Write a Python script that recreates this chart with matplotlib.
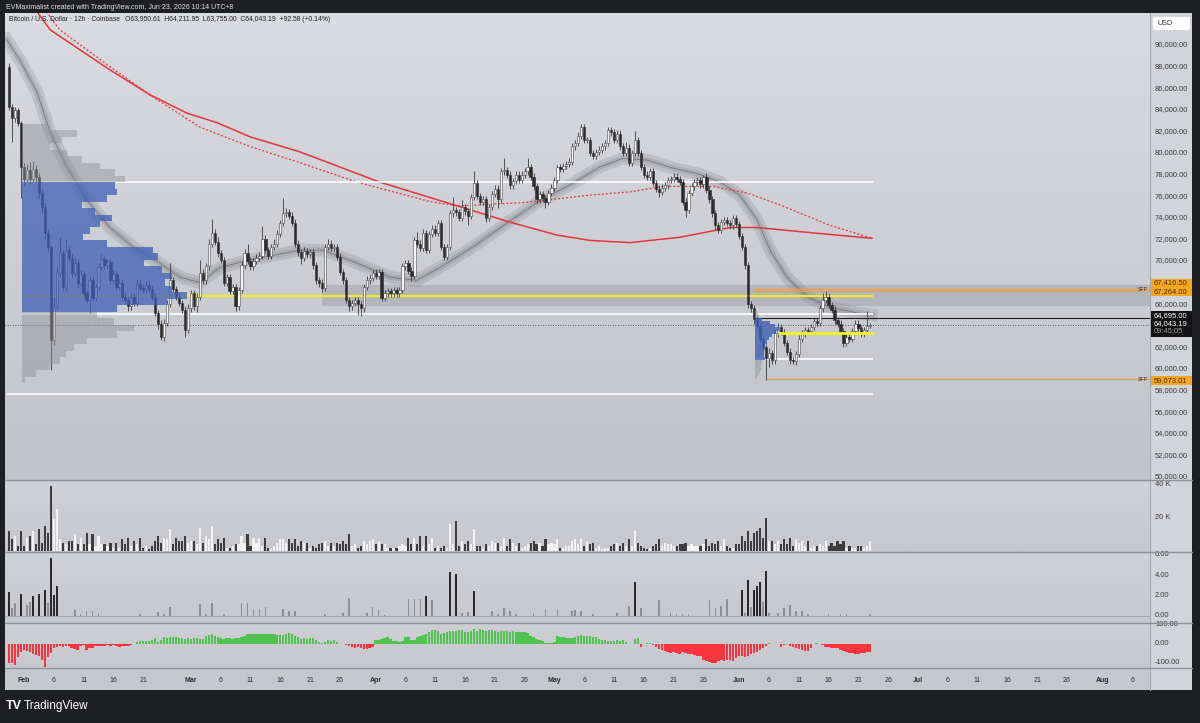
import numpy as np
import pandas as pd
import matplotlib
matplotlib.use("Agg")
import matplotlib.pyplot as plt
import matplotlib.transforms as mtrans
from matplotlib.colors import LinearSegmentedColormap
from matplotlib.patches import Rectangle, FancyBboxPatch

plt.rcParams["font.family"] = ["Liberation Sans", "DejaVu Sans"]

# ---------------- data (prices in thousands of USD, 12h bars) ----------------
t0 = pd.Timestamp("2026-02-01")
bar_times = pd.date_range("2026-01-29 12:00", periods=290, freq="12h")
first_open = 88.0
closes = [
    84.3, 83.2, 84.0, 82.8, 78.7, 77.6, 78.4, 77.6, 78.5, 77.8,
    76.3, 75.0, 72.6, 71.3, 62.7, 65.8, 68.9, 70.7, 67.6, 71.0,
    70.3, 68.9, 69.8, 68.0, 68.8, 67.0, 66.4, 68.2, 66.6, 67.6,
    69.4, 70.2, 69.6, 69.9, 68.2, 68.8, 67.6, 68.0, 66.7, 66.4,
    65.8, 66.7, 66.1, 67.9, 67.5, 67.3, 67.8, 67.4, 66.7, 65.2,
    64.2, 63.0, 64.3, 66.0, 68.2, 67.4, 66.7, 66.1, 65.5, 63.6,
    65.6, 67.0, 65.8, 66.7, 68.9, 68.2, 69.5, 71.6, 72.6, 71.8,
    70.7, 70.1, 68.0, 68.5, 67.2, 67.6, 65.8, 67.3, 69.6, 70.7,
    70.0, 69.5, 70.0, 70.3, 70.5, 72.0, 71.0, 70.5, 71.3, 71.6,
    72.5, 73.5, 74.4, 74.5, 74.2, 73.5, 71.6, 70.8, 70.3, 70.9,
    70.6, 70.8, 69.6, 68.2, 68.0, 67.5, 71.3, 71.6, 71.2, 71.3,
    70.4, 69.0, 68.2, 66.4, 65.8, 66.1, 66.4, 66.0, 65.6, 67.6,
    68.2, 68.4, 68.9, 68.6, 69.0, 66.6, 67.0, 67.2, 67.0, 67.3,
    67.0, 67.3, 69.5, 69.8, 69.1, 68.6, 71.9, 71.6, 71.2, 72.6,
    71.0, 72.5, 73.0, 72.6, 73.5, 71.3, 70.4, 71.3, 74.4, 74.7,
    74.5, 74.0, 75.0, 74.6, 74.2, 75.9, 77.2, 76.0, 75.5, 75.7,
    74.0, 75.0, 76.2, 76.7, 75.7, 78.3, 78.4, 78.0, 77.0, 77.4,
    78.0, 77.5, 78.0, 78.3, 78.7, 77.8, 76.9, 75.7, 76.2, 75.8,
    75.5, 76.3, 76.8, 77.5, 78.7, 78.5, 78.8, 79.0, 79.2, 80.6,
    80.9, 81.6, 82.4, 81.2, 81.2, 80.0, 79.7, 80.1, 80.3, 80.6,
    80.9, 82.1, 81.9, 81.2, 81.8, 80.6, 80.0, 80.5, 79.1, 80.0,
    81.2, 80.0, 78.7, 78.0, 77.8, 78.3, 77.2, 76.7, 76.4, 76.8,
    77.0, 77.5, 77.6, 77.8, 77.6, 77.3, 75.5, 74.7, 76.3, 76.9,
    77.3, 77.5, 77.1, 77.8, 76.6, 75.7, 74.4, 73.3, 72.9, 73.6,
    73.8, 73.5, 73.3, 74.0, 73.4, 72.3, 71.3, 69.6, 66.0, 65.6,
    64.6, 64.0, 62.8, 62.0, 61.0, 61.5, 60.8, 63.3, 63.9, 63.4,
    62.4, 61.6, 60.8, 60.7, 61.4, 62.8, 63.3, 63.6, 63.5, 63.9,
    64.4, 64.3, 65.6, 66.4, 66.7, 65.9, 65.5, 64.5, 64.2, 63.5,
    62.4, 63.0, 62.8, 63.5, 64.2, 63.8, 63.3, 63.6, 63.95, 64.04,
]
# wick length above / below the body, in hundreds of USD
wick_up = [
    3, 2, 3, 2, 2, 4, 6, 8, 8, 4,   3, 3, 4, 3, 2, 9, 5, 15, 3, 10,
    4, 3, 5, 3, 4, 3, 3, 3, 4, 3,   4, 4, 3, 3, 3, 4, 3, 4, 3, 3,
    3, 3, 3, 4, 3, 3, 3, 3, 3, 3,   3, 3, 3, 4, 16, 3, 3, 3, 3, 3,
    4, 3, 3, 3, 12, 4, 3, 4, 13, 4, 4, 3, 3, 3, 3, 3, 3, 3, 4, 4,
    9, 4, 3, 3, 3, 12, 4, 3, 3, 4,  4, 3, 14, 4, 3, 3, 4, 3, 3, 4,
    3, 3, 3, 3, 3, 3, 3, 4, 3, 3,   3, 3, 3, 3, 3, 3, 3, 3, 3, 3,
    4, 3, 3, 4, 3, 3, 3, 3, 3, 3,   3, 3, 3, 3, 3, 3, 3, 8, 3, 4,
    3, 3, 3, 3, 3, 3, 3, 3, 3, 12,  3, 3, 6, 3, 3, 3, 11, 3, 3, 3,
    3, 3, 3, 3, 3, 3, 11, 3, 3, 3,  3, 3, 3, 3, 8, 3, 3, 3, 3, 3,
    3, 3, 3, 3, 2, 3, 3, 3, 3, 3,   3, 3, 3, 3, 3, 3, 3, 3, 3, 3,
    3, 3, 3, 3, 3, 3, 3, 5, 3, 3,   8, 3, 3, 3, 3, 3, 3, 3, 3, 3,
    3, 3, 3, 3, 3, 3, 3, 3, 3, 3,   3, 3, 3, 2, 3, 3, 3, 3, 3, 3,
    3, 3, 3, 3, 3, 3, 3, 3, 3, 3,   3, 3, 3, 3, 3, 4, 3, 3, 4, 3,
    3, 3, 3, 3, 3, 3, 3, 3, 3, 3,   3, 3, 3, 6, 5, 3, 3, 3, 3, 3,
    3, 3, 3, 3, 3, 3, 3, 3, 14, 2,
]
wick_dn = [
    3, 22, 3, 3, 29, 6, 3, 4, 3, 5,  5, 6, 6, 4, 28, 5, 3, 3, 4, 3,
    3, 4, 3, 4, 3, 4, 3, 12, 3, 3,   3, 3, 3, 3, 3, 3, 3, 3, 3, 3,
    4, 3, 3, 3, 3, 3, 3, 3, 3, 3,    5, 3, 4, 3, 3, 3, 3, 3, 3, 6,
    3, 3, 3, 5, 3, 3, 3, 3, 3, 3,    3, 3, 3, 3, 3, 3, 4, 3, 3, 3,
    3, 3, 3, 3, 3, 3, 3, 3, 3, 3,    3, 3, 3, 3, 3, 3, 3, 3, 6, 3,
    3, 3, 3, 3, 4, 4, 3, 3, 3, 3,    3, 3, 3, 3, 4, 3, 3, 10, 7, 3,
    3, 3, 3, 3, 3, 3, 3, 3, 3, 3,    3, 3, 3, 3, 3, 5, 3, 3, 3, 3,
    3, 3, 3, 3, 3, 3, 3, 3, 3, 3,    3, 3, 3, 3, 9, 3, 3, 3, 3, 3,
    4, 3, 3, 3, 8, 3, 3, 3, 3, 3,    3, 3, 3, 3, 3, 3, 3, 3, 3, 3,
    6, 3, 3, 3, 3, 3, 3, 3, 3, 3,    3, 3, 3, 3, 3, 3, 3, 3, 3, 3,
    3, 3, 3, 3, 3, 3, 3, 3, 3, 3,    3, 3, 3, 3, 3, 3, 3, 3, 5, 3,
    3, 3, 3, 3, 3, 3, 3, 6, 3, 3,    3, 3, 3, 3, 3, 3, 3, 4, 3, 3,
    3, 3, 3, 3, 3, 3, 3, 3, 4, 3,    4, 3, 3, 3, 20, 8, 3, 3, 3, 3,
    3, 3, 3, 2, 3, 3, 3, 3, 3, 3,    3, 3, 3, 3, 3, 3, 3, 3, 3, 3,
    4, 3, 3, 3, 3, 3, 3, 3, 3, 2,
]
volume_k = [
    12, 7, 9, 3, 12, 3, 8, 9, 12, 4,   13, 5, 15, 11, 39, 19, 25, 7, 5, 4,
    6, 6, 10, 4, 8, 4, 11, 4, 10, 3,    9, 4, 4, 3, 5, 2, 5, 2, 7, 4,
    8, 3, 6, 4, 8, 2, 3, 1, 3, 6,       9, 5, 8, 7, 13, 4, 8, 6, 6, 9,
    5, 6, 6, 4, 14, 5, 9, 7, 15, 4,     7, 5, 8, 2, 2, 3, 4, 4, 9, 5,
    10, 3, 8, 5, 8, 3, 8, 2, 2, 3,      5, 7, 7, 5, 7, 5, 7, 3, 6, 5,
    5, 2, 3, 2, 4, 5, 6, 3, 5, 3,       5, 4, 6, 4, 10, 3, 4, 2, 3, 6,
    4, 6, 7, 4, 6, 4, 4, 2, 2, 2,       2, 3, 4, 3, 8, 4, 8, 4, 9, 3,
    9, 4, 8, 2, 3, 2, 3, 2, 16, 4,      18, 3, 6, 4, 6, 4, 13, 3, 3, 2,
    4, 3, 6, 5, 5, 3, 8, 3, 7, 5,       3, 5, 2, 3, 4, 5, 6, 4, 5, 3,
    7, 4, 5, 4, 7, 2, 2, 3, 3, 6,       7, 4, 7, 3, 6, 4, 5, 2, 3, 1,
    2, 2, 3, 4, 5, 3, 5, 3, 7, 3,       12, 5, 3, 2, 1, 2, 3, 4, 7, 3,
    5, 4, 4, 3, 3, 4, 4, 5, 3, 4,       3, 3, 3, 4, 7, 3, 5, 4, 6, 3,
    7, 3, 2, 2, 4, 4, 9, 6, 12, 6,      11, 12, 14, 8, 20, 6, 6, 4, 6, 4,
    7, 4, 8, 3, 7, 5, 6, 3, 6, 2,       3, 3, 4, 3, 6, 3, 5, 3, 6, 4,
    6, 2, 3, 2, 2, 3, 3, 2, 3, 6,
]
# second pane: sparse spikes (bar index, value)
spike_idx = [0, 1, 2, 4, 6, 7, 8, 10, 12, 13, 14, 15, 16, 22, 24, 26, 28, 30, 44, 50,
             52, 54, 64, 66, 68, 72, 78, 80, 82, 84, 86, 92, 94, 96, 106, 112, 114, 120, 122, 124,
             126, 134, 136, 138, 140, 142, 148, 150, 152, 154, 156, 162, 164, 166, 168, 170, 176, 180, 184, 189,
             190, 192, 196, 204, 208, 210, 212, 218, 222, 224, 226, 228, 235, 237, 239, 241, 246, 247, 248, 249,
             250, 251, 252, 253, 254, 255, 258, 260, 262, 264, 266, 268, 275, 279, 281, 289]
spike_val = [2.4, 0.75, 1.3, 2.2, 1.1, 1.4, 2.0, 2.2, 2.6, 1.3, 5.7, 2.1, 2.9, 0.6, 0.15, 0.5, 0.5, 0.25, 0.2, 0.35,
             0.2, 0.9, 1.15, 0.15, 1.25, 0.15, 1.25, 1.25, 0.7, 0.65, 0.9, 0.7, 0.5, 0.5, 0.15, 0.25, 1.75, 0.25, 0.9, 0.6,
             0.1, 1.65, 1.65, 1.65, 2.0, 1.6, 4.3, 4.1, 0.25, 0.4, 2.5, 0.5, 0.15, 0.8, 0.5, 0.15, 0.3, 0.65, 0.65, 0.5,
             0.6, 0.5, 0.15, 0.25, 1.0, 3.3, 0.75, 1.6, 0.3, 0.15, 0.15, 0.15, 1.6, 0.8, 1.0, 1.65, 2.55, 0.25, 3.5, 0.9,
             2.6, 2.95, 3.3, 1.4, 4.4, 0.25, 0.3, 0.8, 1.1, 0.5, 0.5, 0.15, 0.15, 0.15, 0.15, 0.15]
osc = [
    -103, -108, -114, -72, -48, -36, -40, -48, -56, -61,  -65, -90, -128, -75, -50, -25, -18, -14, -17, -15,
    -16, -22, -30, -33, -12, -10, -35, -27, -22, -16,     -11, -11, -13, -10, -12, -9, -14, -17, -13, -16,
    -13, -7, -3, 8, 12, 16, 13, 12, 21, 32,               6, 19, 33, 28, 37, 36, 34, 32, 31, 26,
    30, 27, 32, 30, 26, 23, 40, 44, 49, 40,               33, 28, 26, 28, 28, 27, 30, 32, 35, 43,
    54, 51, 52, 51, 49, 49, 49, 53, 53, 50,               47, 48, 46, 50, 55, 50, 39, 35, 27, 29,
    27, 28, 30, 18, 8, 5, 9, 20, 13, 19,                  10, 0, -5, -10, -14, -18, -22, -21, -25, -30,
    -30, -25, -18, 20, 18, 26, 31, 37, 25, 16,            11, 10, 15, 35, 35, 20, 20, 35, 42, 45,
    50, 62, 72, 75, 70, 53, 58, 61, 67, 70,               67, 72, 72, 63, 62, 66, 79, 70, 79, 74,
    70, 74, 74, 66, 64, 68, 70, 67, 62, 65,               62, 60, 62, 62, 55, 42, 35, 26, 21, 12,
    3, 2, 5, 10, 38, 35, 35, 32, 32, 32,                  35, 42, 46, 42, 38, 38, 35, 35, 27, 18,
    18, 16, 14, 14, 18, 14, 21, 9, -3, 0,                 26, 30, -17, 0, 3, 3, -10, -21, -30, -37,
    -40, -46, -53, -44, -49, -56, -44, -49, -55, -58,     -61, -67, -70, -88, -96, -100, -105, -103, -95, -88,
    -95, -88, -88, -95, -79, -70, -70, -75, -70, -58,     -51, -44, -35, -26, -14, 2, 0, 0, 0, -17,
    -9, -4, -14, -21, -26, -30, -35, -40, -42, -26,       -4, 4, 0, -9, -17, -21, -24, -26, -26, -35,
    -39, -44, -49, -52, -56, -56, -53, -49, -44, -44,
]

# moving averages and the grey ribbon, read at dates (days after Feb 1)
ma_days = [-3.0, 4.4, 14.4, 21.1, 27.3, 32.4, 37.9, 46.3, 59.7, 72.7, 81.5, 89.4,
           95.0, 101.7, 110.1, 118.5, 123.0, 132.4, 142.3]
ma_vals = [97.0, 91.4, 87.7, 85.4, 83.7, 82.8, 81.5, 80.1, 77.3, 75.1, 73.6, 72.4,
           71.9, 71.7, 72.2, 73.1, 73.1, 72.6, 72.1]
ma2_days = [-3.0, 6.0, 14.4, 21.6, 29.5, 37.9, 46.3, 55.9, 68.1, 72.7, 83.7, 95.0,
            101.7, 107.2, 115.6, 121.3, 126.8, 135.2, 142.3]
ma2_vals = [98.0, 91.4, 88.0, 85.2, 82.4, 80.6, 79.1, 77.3, 75.5, 75.1, 75.4, 76.1,
            76.4, 76.9, 76.9, 76.3, 75.2, 73.3, 72.1]
rib_days = [-2.9, -0.7, 2.2, 4.4, 7.2, 10.6, 14.4, 18.3, 22.8, 26.2, 29.5, 32.9, 37.9,
            43.5, 46.3, 50.2, 55.9, 61.4, 65.9, 69.8, 75.3, 81.0, 86.6, 92.1, 96.6, 100.5,
            104.5, 108.9, 112.9, 116.8, 120.1, 123.0, 125.2, 128.0, 131.4, 135.2, 139.8, 142.3]
rib_vals = [90.5, 88.6, 85.6, 81.9, 78.7, 75.6, 73.1, 71.3, 69.8, 68.5, 68.0, 69.4, 70.1,
            70.7, 71.0, 71.0, 69.8, 68.5, 68.2, 69.4, 71.3, 73.5, 75.6, 77.2, 78.7, 79.5,
            79.35, 78.6, 78.1, 77.3, 76.1, 73.8, 71.0, 68.5, 66.7, 65.7, 65.2, 65.0]

# volume profiles
vp_prices = [59.0, 59.6, 60.2, 60.8, 61.4, 62.0, 62.6, 63.2, 63.8, 64.4,
             65.0, 65.6, 66.2, 66.8, 67.4, 68.0, 68.6, 69.2, 69.8, 70.4,
             71.0, 71.6, 72.2, 72.8, 73.4, 74.0, 74.6, 75.2, 75.8, 76.4,
             77.0, 77.6, 78.2, 78.8, 79.4, 80.0, 80.6, 81.2, 81.8, 82.4]
vp_vols = [3, 14, 28, 38, 44, 52, 65, 95, 112, 92,
           75, 95, 145, 165, 150, 143, 150, 140, 122, 136,
           131, 85, 61, 68, 78, 90, 73, 60, 85, 95,
           93, 103, 93, 78, 60, 45, 28, 40, 55, 25]
jp_prices = [59.2, 59.5, 59.8, 60.1, 60.4, 60.7, 61.0, 61.3, 61.6, 61.9, 62.2,
             62.5, 62.8, 63.1, 63.4, 63.7, 64.0, 64.3, 64.6, 64.9, 65.2]
jp_vols = [2, 4, 5, 6, 6, 7, 10, 9, 9, 10, 10, 12, 14, 17, 21, 24, 20, 15, 7, 4, 3]

# key levels
va_high, va_low, poc = 77.3, 65.1, 66.8
range_low = 57.7
jun_va_high, jun_va_low, jun_poc = 64.6, 60.9, 63.3
sfp_high = [67.4165, 67.264]
sfp_low = 59.07301
level_black = 64.695
last_price = 64.04319
supply_zone = (65.8, 67.8)
session_start, jun_start, zone_start, last_day = -0.34, 122.65, 50.0, 142.5

date_ticks = ["2026-02-01", "2026-02-06", "2026-02-11", "2026-02-16", "2026-02-21",
              "2026-03-01", "2026-03-06", "2026-03-11", "2026-03-16", "2026-03-21", "2026-03-26",
              "2026-04-01", "2026-04-06", "2026-04-11", "2026-04-16", "2026-04-21", "2026-04-26",
              "2026-05-01", "2026-05-06", "2026-05-11", "2026-05-16", "2026-05-21", "2026-05-26",
              "2026-06-01", "2026-06-06", "2026-06-11", "2026-06-16", "2026-06-21", "2026-06-26",
              "2026-07-01", "2026-07-06", "2026-07-11", "2026-07-16", "2026-07-21", "2026-07-26",
              "2026-08-01", "2026-08-06"]

# ---------------- derived ----------------
x = ((bar_times - t0) / pd.Timedelta(days=1)).to_numpy()
c = np.array(closes)
o = np.r_[first_open, c[:-1]]
up = c >= o
top = np.maximum(o, c)
bot = np.minimum(o, c)
hi = top + np.array(wick_up) / 10.0
lo = bot - np.array(wick_dn) / 10.0

# ---------------- figure ----------------
W, H = 1200, 723
fig = plt.figure(figsize=(W / 100, H / 100), dpi=100, facecolor="#1e1f22")
XMIN, XMAX = -3.19, 188.93


def px_axes(x0, y0, x1, y1, z=1):
    ax = fig.add_axes([x0 / W, 1 - y1 / H, (x1 - x0) / W, (y1 - y0) / H], zorder=z)
    ax.set_xticks([])
    ax.set_yticks([])
    for s in ax.spines.values():
        s.set_visible(False)
    return ax


def gradient(ax, c_top, c_bot):
    cmap = LinearSegmentedColormap.from_list("g", [c_top, c_bot])
    ax.imshow(np.linspace(0, 1, 64).reshape(-1, 1), cmap=cmap, aspect="auto",
              extent=(0, 1, 0, 1), transform=ax.transAxes, zorder=0,
              interpolation="bilinear")


def rside(ax):
    return mtrans.blended_transform_factory(fig.transFigure, ax.transData)


ax_r = px_axes(1150, 13, 1192, 690, z=0)
ax_r.set_facecolor("#d2d4d9")
ax_r.spines["left"].set_visible(True)
ax_r.spines["left"].set_color("#a5a7ac")

ax_p = px_axes(5, 13, 1150, 480)
ax_v = px_axes(5, 480, 1150, 552)
ax_s = px_axes(5, 552, 1150, 623)
ax_o = px_axes(5, 623, 1150, 668)
ax_t = px_axes(5, 668, 1150, 690)
gradient(ax_p, "#d9dbe0", "#c1c3c8")
gradient(ax_v, "#cfd1d6", "#c6c8cd")
gradient(ax_s, "#cfd1d6", "#c6c8cd")
gradient(ax_o, "#cdcfd4", "#c6c8cd")
ax_t.set_facecolor("#c5c7cc")

ax_p.set_ylim(49.72, 92.96)
ax_v.set_ylim(-0.6, 42.4)
ax_s.set_ylim(-0.69, 6.29)
ax_o.set_ylim(-132.4, 110.8)
ax_t.set_ylim(0, 1)
for ax in (ax_p, ax_v, ax_s, ax_o, ax_t):
    ax.set_xlim(XMIN, XMAX)

for yy in (480, 552, 623, 668):
    fig.add_artist(plt.Line2D([5 / W, 1192 / W], [1 - yy / H] * 2, color="#8f9196", lw=1, zorder=5))

# ---------------- price pane ----------------
ax = ax_p
ax.fill_between([zone_start, XMAX], supply_zone[0], supply_zone[1], color="#a2a4aa", alpha=0.55, lw=0, zorder=1)
ax.plot(rib_days, rib_vals, color="#8a8c92", lw=9, alpha=0.28, solid_joinstyle="round", zorder=2)
ax.plot(rib_days, rib_vals, color="#7a7c82", lw=4, alpha=0.25, solid_joinstyle="round", zorder=2)
ax.plot(rib_days, rib_vals, color="#6a6c72", lw=0.6, alpha=0.8, zorder=2)
ax.plot(ma_days, ma_vals, color="#e5343f", lw=1.1, zorder=2.5)
ax.plot(ma2_days, ma2_vals, color="#e5343f", lw=0.9, ls=(0, (1.6, 1.6)), zorder=2.5)

ax.hlines([va_high, va_low], session_start, last_day, color="white", lw=1.2, zorder=3)
ax.hlines(range_low, -2.9, last_day, color="white", lw=1.2, zorder=3)
ax.hlines(poc, session_start, last_day, color="#eef01c", lw=1.5, zorder=3)
ax.hlines(jun_va_low, jun_start, last_day, color="white", lw=1.2, zorder=3)
ax.hlines(sfp_high, 122.3, XMAX, color="#eda048", lw=0.9, zorder=3)
ax.hlines(sfp_low, 124.5, XMAX, color="#eda048", lw=0.9, zorder=3)
ax.hlines(level_black, jun_start, XMAX, color="#1d1d1d", lw=0.8, zorder=3)
ax.hlines(last_price, XMIN, XMAX, color="#3a3a3a", lw=0.6, ls=(0, (1, 2)), zorder=3)

ax.vlines(x, lo, hi, color="#3a3a3a", lw=0.6, zorder=4)
body = np.maximum(top - bot, 0.08)
ax.bar(x[up], body[up], bottom=bot[up], width=0.38, color="#f4f4f4",
       edgecolor="#4a4a4a", linewidth=0.4, zorder=5)
ax.bar(x[~up], body[~up], bottom=bot[~up], width=0.38, color="#2c2c2c",
       edgecolor="#2c2c2c", linewidth=0.4, zorder=5)

vpp = np.array(vp_prices)
vpw = np.array(vp_vols) / max(vp_vols) * 27.7
inva = (vpp >= va_low) & (vpp <= va_high)
ax.barh(vpp[inva], vpw[inva], height=0.6, left=session_start, color="#3f5fb8", alpha=0.75, lw=0, zorder=6)
ax.barh(vpp[~inva], vpw[~inva], height=0.6, left=session_start, color="#8e9096", alpha=0.45, lw=0, zorder=6)

jpp = np.array(jp_prices)
jpw = np.array(jp_vols) / max(jp_vols) * 4.0
jin = (jpp >= jun_va_low) & (jpp <= jun_va_high)
ax.barh(jpp[jin], jpw[jin], height=0.3, left=jun_start, color="#3f5fb8", alpha=0.8, lw=0, zorder=6)
ax.barh(jpp[~jin], jpw[~jin], height=0.3, left=jun_start, color="#8e9096", alpha=0.45, lw=0, zorder=6)
ax.hlines(jun_poc, 126.5, last_day, color="#f2f51e", lw=2.0, zorder=7)

rp = rside(ax_p)
for s in (sfp_high[0], sfp_low):
    ax.text(1148 / W, s - 0.05, "SFP", transform=rp, fontsize=3.8, ha="right", va="center",
            color="#333333", clip_on=False, zorder=8)

lab = dict(fontsize=5.4, ha="left", va="center", clip_on=False)
for p in np.arange(50, 91, 2):
    ax.text(1155 / W, p, f"{p * 1000:,.2f}", transform=rp, color="#3a3a3a", zorder=8, **lab)


def scale_box(axx, lo_v, hi_v, face):
    axx.add_patch(Rectangle((1151 / W, lo_v), 41 / W, hi_v - lo_v, transform=rside(axx),
                            facecolor=face, edgecolor="none", clip_on=False, zorder=9))


scale_box(ax_p, 66.79, 68.35, "#f5a623")
ax.text(1154 / W, 67.96, f"{sfp_high[0] * 1000:,.2f}", transform=rp, color="#4a2f00", zorder=10, **lab)
ax.text(1154 / W, 67.18, f"{sfp_high[1] * 1000:,.2f}", transform=rp, color="#4a2f00", zorder=10, **lab)
scale_box(ax_p, 62.94, 65.35, "#121212")
ax.text(1154 / W, 64.91, f"{level_black * 1000:,.2f}", transform=rp, color="white", zorder=10, **lab)
ax.text(1154 / W, 64.17, f"{last_price * 1000:,.2f}", transform=rp, color="white", zorder=10, **lab)
ax.text(1154 / W, 63.43, "09:45:05", transform=rp, color="#9c9c9c", zorder=10, **lab)
scale_box(ax_p, 58.52, 59.35, "#f5a623")
ax.text(1154 / W, 58.94, f"{sfp_low * 1000:,.2f}", transform=rp, color="#4a2f00", zorder=10, **lab)

fig.add_artist(FancyBboxPatch((1153 / W, 1 - 30 / H), 37 / W, 13 / H,
                              boxstyle="round,pad=0,rounding_size=0.002",
                              transform=fig.transFigure, facecolor="white", edgecolor="none", zorder=6))
fig.text(1157 / W, 1 - 23.5 / H, "USD", fontsize=5.2, color="#333333", va="center", zorder=7)

# ---------------- volume pane ----------------
ax_v.bar(x, volume_k, width=0.36, color=np.where(up, "#f2f2f2", "#3d3d3d"), lw=0, zorder=3)
for v in (40, 20):
    ax_v.text(1155 / W, v, f"{v} K", transform=rside(ax_v), color="#3a3a3a", zorder=8, **lab)

# ---------------- spike pane ----------------
sv = np.array(spike_val)
ax_s.bar(x[spike_idx], sv, width=0.28, color=np.where(sv >= 2.0, "#2a2a2a", "#8d8f94"), lw=0, zorder=3)
ax_s.axhline(0, color="#a0a2a6", lw=0.6, zorder=2)
for v in (6, 4, 2, 0):
    ax_s.text(1155 / W, v, f"{v:.2f}", transform=rside(ax_s), color="#3a3a3a", zorder=8, **lab)

# ---------------- oscillator pane ----------------
ov = np.array(osc)
ax_o.bar(x, ov, width=0.4, color=np.where(ov >= 0, "#4fc24f", "#f7353f"), lw=0, zorder=3)
for v in (100, 0, -100):
    ax_o.text(1155 / W, v, f"{v:.2f}", transform=rside(ax_o), color="#3a3a3a", zorder=8, **lab)

# ---------------- date axis ----------------
tt = mtrans.blended_transform_factory(ax_t.transData, ax_t.transAxes)
for d in pd.to_datetime(date_ticks):
    dd = (d - t0) / pd.Timedelta(days=1)
    month = d.day == 1
    ax_t.text(dd, 0.42, d.strftime("%b") if month else str(d.day), transform=tt,
              fontsize=5.0, ha="center", va="center", color="#2e2e2e",
              fontweight="bold" if month else "normal")

# ---------------- header / footer ----------------
fig.text(6 / W, 1 - 7.5 / H, "EVMaximalist created with TradingView.com, Jun 23, 2026 10:14 UTC+8",
         fontsize=5.0, color="#e4e4e4", va="center")
fig.text(9 / W, 1 - 19.5 / H, "Bitcoin / U.S. Dollar · 12h · Coinbase",
         fontsize=4.9, color="#222222", va="center", zorder=8)
fig.text(125 / W, 1 - 19.5 / H, "O63,950.61  H64,211.95  L63,755.00  C64,043.19  +92.58 (+0.14%)",
         fontsize=4.9, color="#222222", va="center", zorder=8)
fig.text(6 / W, 1 - 706 / H, "TV", fontsize=9, fontweight="bold", color="white", va="center")
fig.text(24 / W, 1 - 706 / H, "TradingView", fontsize=8.5, color="white", va="center")

fig.savefig("out.png", dpi=100, facecolor=fig.get_facecolor())
